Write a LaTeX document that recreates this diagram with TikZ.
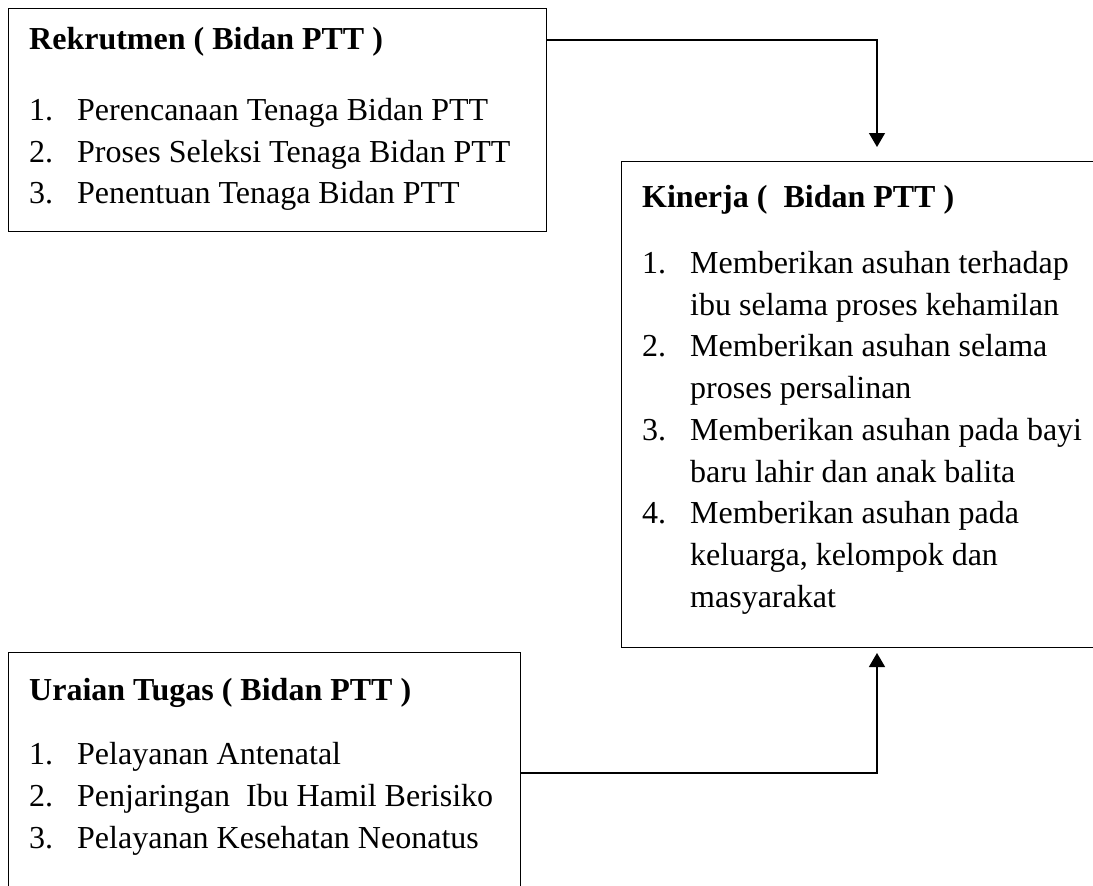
\documentclass[tikz,border=0pt]{standalone}
\usepackage{fontspec}
\setmainfont{Liberation Serif}
\usetikzlibrary{arrows.meta,calc}
\tikzset{
  boxframe/.style={draw, line width=1pt, inner sep=0pt, anchor=north west},
  txt/.style={anchor=base west, inner sep=0pt, font=\fontsize{32}{40}\selectfont},
  ttl/.style={anchor=base west, inner sep=0pt, font=\fontsize{32}{40}\selectfont\bfseries},
  conn/.style={line width=1.4pt, -{Triangle[width=16pt,length=14pt]}}
}
\begin{document}
\begin{tikzpicture}[x=1pt,y=-1pt]
\clip (0,0) rectangle (1093,886);
\fill[white] (0,0) rectangle (1093,886);
% boxes
\node[boxframe, minimum width=538pt, minimum height=223pt] (rek) at (8,8) {};
\node[boxframe, minimum width=490pt, minimum height=486pt] (kin) at (621,161) {};
\node[boxframe, minimum width=512pt, minimum height=260pt] (ura) at (8,652) {};
% Rekrutmen text
\node[ttl] (rt) at (29,49) {Rekrutmen ( Bidan PTT )};
\node[txt] (rn1) at (29,120) {1.};  \node[txt] (ri1) at (77,120) {Perencanaan Tenaga Bidan PTT};
\node[txt] (rn2) at (29,162) {2.};  \node[txt] (ri2) at (77,162) {Proses Seleksi Tenaga Bidan PTT};
\node[txt] (rn3) at (29,203) {3.};  \node[txt] (ri3) at (77,203) {Penentuan Tenaga Bidan PTT};
% Kinerja text
\node[ttl] (kt) at (642,207) {Kinerja (~ Bidan PTT )};
\node[txt] (kn1) at (642,273) {1.};  \node[txt] (ki1a) at (690,273) {Memberikan asuhan terhadap};
\node[txt] (ki1b) at (690,315) {ibu selama proses kehamilan};
\node[txt] (kn2) at (642,356) {2.};  \node[txt] (ki2a) at (690,356) {Memberikan asuhan selama};
\node[txt] (ki2b) at (690,398) {proses persalinan};
\node[txt] (kn3) at (642,440) {3.};  \node[txt] (ki3a) at (690,440) {Memberikan asuhan pada bayi};
\node[txt] (ki3b) at (690,482) {baru lahir dan anak balita};
\node[txt] (kn4) at (642,523) {4.};  \node[txt] (ki4a) at (690,523) {Memberikan asuhan pada};
\node[txt] (ki4b) at (690,565) {keluarga, kelompok dan};
\node[txt] (ki4c) at (690,607) {masyarakat};
% Uraian text
\node[ttl] (ut) at (29,700) {Uraian Tugas ( Bidan PTT )};
\node[txt] (un1) at (29,764) {1.};  \node[txt] (ui1) at (77,764) {Pelayanan Antenatal};
\node[txt] (un2) at (29,806) {2.};  \node[txt] (ui2) at (77,806) {Penjaringan~ Ibu Hamil Berisiko};
\node[txt] (un3) at (29,848) {3.};  \node[txt] (ui3) at (77,848) {Pelayanan Kesehatan Neonatus};
% connectors
\coordinate (t1) at ($(kin.north west)+(256,-14)$);
\coordinate (t2) at ($(kin.south west)+(256,5)$);
\draw[conn] ($(rek.north east)+(0,32)$) -| (t1);
\draw[conn] ($(ura.north east)+(0,121)$) -| (t2);
\end{tikzpicture}
\end{document}
